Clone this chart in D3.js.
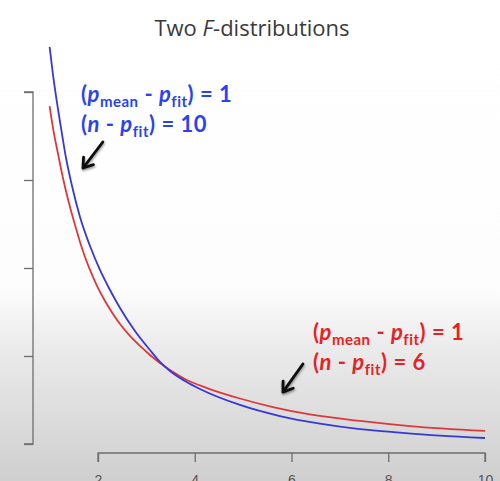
<!DOCTYPE html>
<html>
<head>
<meta charset="utf-8">
<script src="https://cdn.jsdelivr.net/npm/d3@7"></script>
<style>
  body { margin: 0; background: #fff; }
  svg { display: block; }
</style>
</head>
<body>
<div id="chart"></div>
<script>

// values (F densities, arbitrary y units)
var blueX = [1.0, 1.07, 1.153, 1.236, 1.339, 1.463, 1.628, 1.835, 2.041, 2.248, 2.455, 2.764, 3.074, 3.281, 3.488, 3.798, 4.107, 4.934, 5.76, 6.587, 7.413, 8.24, 9.066, 10];
var blueY = [2.256, 2.097, 1.938, 1.795, 1.625, 1.466, 1.29, 1.125, 0.989, 0.875, 0.773, 0.642, 0.534, 0.466, 0.415, 0.358, 0.3125, 0.222, 0.159, 0.116, 0.085, 0.065, 0.048, 0.034];

var redX = [1.0, 1.07, 1.153, 1.236, 1.318, 1.421, 1.525, 1.628, 1.731, 1.835, 1.979, 2.145, 2.31, 2.455, 2.661, 2.868, 3.074, 3.281, 3.488, 3.798, 4.252, 4.934, 5.616, 6.38, 7.413, 8.446, 10];
var redY = [1.92, 1.795, 1.676, 1.5625, 1.46, 1.347, 1.244, 1.148, 1.0625, 0.989, 0.898, 0.8125, 0.739, 0.682, 0.614, 0.557, 0.506, 0.46, 0.42, 0.369, 0.318, 0.2585, 0.21, 0.168, 0.131, 0.102, 0.074];

var xTicks = [2, 4, 6, 8, 10];
var yTicks = [0, 0.5, 1, 1.5, 2];

var blueColor = "#3838d4", redColor = "#dc3a3a";
var blueText = "#2a44ea", redText = "#e42424";

var width = 500, height = 481;

var svg = d3.select("#chart")
    .append("svg")
    .attr("width", width)
    .attr("height", height)
    .style("font-family", "Lato, 'Open Sans', sans-serif");

// background: white fading to grey at the bottom
var defs = svg.append("defs");
var grad = defs.append("linearGradient")
    .attr("id", "bg")
    .attr("x1", 0).attr("y1", 0).attr("x2", 0).attr("y2", 1);
grad.append("stop").attr("offset", "0").attr("stop-color", "#ffffff");
grad.append("stop").attr("offset", "0.6").attr("stop-color", "#fdfdfd");
grad.append("stop").attr("offset", "0.72").attr("stop-color", "#ebebeb");
grad.append("stop").attr("offset", "1").attr("stop-color", "#cfcfcf");
svg.append("rect").attr("width", width).attr("height", height).attr("fill", "url(#bg)");

var shadow = defs.append("filter").attr("id", "shadow")
    .attr("x", "-50%").attr("y", "-50%").attr("width", "200%").attr("height", "200%");
shadow.append("feDropShadow")
    .attr("dx", 0.5).attr("dy", 1.5).attr("stdDeviation", 1.2)
    .attr("flood-color", "#000").attr("flood-opacity", 0.45);

// scales
var x = d3.scaleLinear().domain([2, 10]).range([98, 485]);
var y = d3.scaleLinear().domain([0, 2]).range([444, 92]);

// title
var title = svg.append("text")
    .attr("x", 252)
    .attr("y", 36)
    .attr("text-anchor", "middle")
    .attr("fill", "#3a3a3a")
    .style("font-family", "'Open Sans', sans-serif")
    .style("font-size", "22px");
title.append("tspan").text("Two ");
title.append("tspan").style("font-style", "italic").text("F");
title.append("tspan").text("-distributions");

// y axis (R style: line spans the ticks)
var yAxis = d3.axisLeft(y).tickValues(yTicks).tickSize(9).tickFormat("");
svg.append("g")
    .attr("transform", "translate(33,0)")
    .call(yAxis)
    .call(function(g){
        g.select(".domain").attr("d", "M-9," + y(2) + "H0V" + y(0) + "H-9");
        g.selectAll("path, line").attr("stroke", "#6e6e6e").attr("stroke-width", 1.3);
    });

// x axis
var xAxis = d3.axisBottom(x).tickValues(xTicks).tickSize(9).tickPadding(13);
svg.append("g")
    .attr("transform", "translate(0,453)")
    .call(xAxis)
    .call(function(g){
        g.select(".domain").attr("d", "M" + x(2) + ",9V0H" + x(10) + "V9");
        g.selectAll("path, line").attr("stroke", "#6e6e6e").attr("stroke-width", 1.3);
        g.selectAll("text").attr("fill", "#555").style("font-size", "14px")
            .style("font-family", "'Liberation Sans', Arial, sans-serif");
    });

// curves
var line = d3.line()
    .x(function(d){ return x(d[0]); })
    .y(function(d){ return y(d[1]); })
    .curve(d3.curveMonotoneX);

svg.append("path")
    .datum(d3.zip(redX, redY))
    .attr("fill", "none")
    .attr("stroke", redColor)
    .attr("stroke-width", 1.8)
    .attr("d", line);

svg.append("path")
    .datum(d3.zip(blueX, blueY))
    .attr("fill", "none")
    .attr("stroke", blueColor)
    .attr("stroke-width", 1.8)
    .attr("d", line);

// labels with subscripts
function addLabel(px, py, color, value) {
    var g = svg.append("g").attr("fill", color)
        .style("font-weight", "bold").style("font-size", "22px")
        .style("letter-spacing", "0.5px");
    var t1 = g.append("text").attr("x", px).attr("y", py);
    t1.append("tspan").text("(");
    t1.append("tspan").style("font-style", "italic").text("p");
    t1.append("tspan").attr("dy", 5).style("font-size", "15px").text("mean");
    t1.append("tspan").attr("dy", -5).text(" - ");
    t1.append("tspan").style("font-style", "italic").text("p");
    t1.append("tspan").attr("dy", 5).style("font-size", "15px").text("fit");
    t1.append("tspan").attr("dy", -5).text(") = 1");

    var t2 = g.append("text").attr("x", px).attr("y", py + 30);
    t2.append("tspan").text("(");
    t2.append("tspan").style("font-style", "italic").text("n");
    t2.append("tspan").text(" - ");
    t2.append("tspan").style("font-style", "italic").text("p");
    t2.append("tspan").attr("dy", 5).style("font-size", "15px").text("fit");
    t2.append("tspan").attr("dy", -5).text(") = " + value);
}

addLabel(81, 102, blueText, "10");
addLabel(313, 340, redText, "6");

// arrows
function arrow(x0, y0, x1, y1) {
    var ang = Math.atan2(y1 - y0, x1 - x0);
    var L = 11, spread = 0.6;
    var a = [x1 - L * Math.cos(ang - spread), y1 - L * Math.sin(ang - spread)];
    var b = [x1 - L * Math.cos(ang + spread), y1 - L * Math.sin(ang + spread)];
    svg.append("path")
        .attr("d", "M" + x0 + "," + y0 + "L" + x1 + "," + y1 +
            "M" + a[0] + "," + a[1] + "L" + x1 + "," + y1 + "L" + b[0] + "," + b[1])
        .attr("fill", "none")
        .attr("stroke", "#111")
        .attr("stroke-width", 2.8)
        .attr("stroke-linecap", "round")
        .attr("stroke-linejoin", "round")
        .attr("filter", "url(#shadow)");
}

arrow(x(2.10), y(1.716), x(1.69), y(1.568));
arrow(x(6.236), y(0.4545), x(5.822), y(0.295));

</script>
</body>
</html>
